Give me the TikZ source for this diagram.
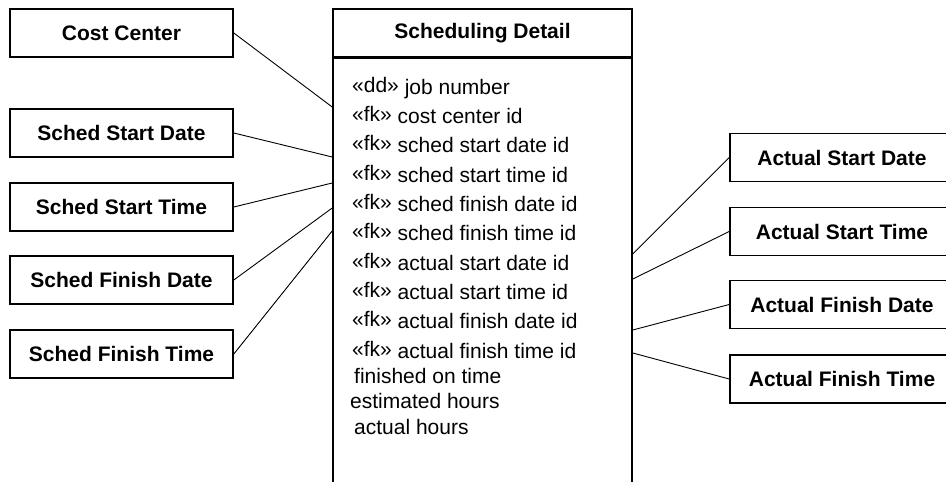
\documentclass[tikz,border=0pt]{standalone}
\usepackage{fontspec}
\setmainfont{Liberation Sans}
\usepackage{tikz}

\newcommand{\stereo}[1]{\raisebox{2pt}{«#1»}}

\tikzset{
  table/.style={draw, line width=1.6pt, minimum height=48pt, inner sep=0pt,
    font=\fontsize{21}{25}\selectfont\bfseries},
  field/.style={anchor=base west, inner sep=0pt, font=\fontsize{21}{25}\selectfont},
  link/.style={line width=0.9pt}
}

\begin{document}
\begin{tikzpicture}[x=1pt,y=-1pt]
            \clip (0,0) rectangle (946,482);
            % left tables
            \node[table, minimum width=223pt] (cc) at (121.5,33) {Cost Center};
            \node[table, minimum width=223pt] (ssd) at (121.5,133) {Sched Start Date};
            \node[table, minimum width=223pt] (sst) at (121.5,207) {Sched Start Time};
            \node[table, minimum width=223pt] (sfd) at (121.5,280) {Sched Finish Date};
            \node[table, minimum width=223pt] (sft) at (121.5,354) {Sched Finish Time};
            % right tables
            \node[table, minimum width=224pt] (asd) at (842,157.5) {Actual Start Date};
            \node[table, minimum width=224pt] (ast) at (842,231.5) {Actual Start Time};
            \node[table, minimum width=224pt] (afd) at (842,304.5) {Actual Finish Date};
            \node[table, minimum width=224pt] (aft) at (842,379) {Actual Finish Time};
            % fact table
            \node[table, minimum width=299pt] (detail) at (482.5,33) {Scheduling Detail};
            \node[draw, line width=1.6pt, minimum width=299pt, minimum height=460pt, anchor=north, inner sep=0pt] (fields) at (detail.south) {};
            \node[field] (f1) at (352,94) {\stereo{dd} job number};
            \node[field] (f2) at (352,123) {\stereo{fk} cost center id};
            \node[field] (f3) at (352,152.5) {\stereo{fk} sched start date id};
            \node[field] (f4) at (352,182) {\stereo{fk} sched start time id};
            \node[field] (f5) at (352,211) {\stereo{fk} sched finish date id};
            \node[field] (f6) at (352,240.5) {\stereo{fk} sched finish time id};
            \node[field] (f7) at (352,270) {\stereo{fk} actual start date id};
            \node[field] (f8) at (352,299) {\stereo{fk} actual start time id};
            \node[field] (f9) at (352,328.5) {\stereo{fk} actual finish date id};
            \node[field] (f10) at (352,358) {\stereo{fk} actual finish time id};
            \node[field] (f11) at (354,383) {finished on time};
            \node[field] (f12) at (350,408) {estimated hours};
            \node[field] (f13) at (354,434) {actual hours};
            % links
            \draw[link] (cc.east) -- (fields.west |- 0,107);
            \draw[link] (ssd.east) -- (fields.west |- 0,157);
            \draw[link] (sst.east) -- (fields.west |- 0,183);
            \draw[link] (sfd.east) -- (fields.west |- 0,208);
            \draw[link] (sft.east) -- (fields.west |- 0,231);
            \draw[link] (fields.east |- 0,254) -- (asd.west);
            \draw[link] (fields.east |- 0,279) -- (ast.west);
            \draw[link] (fields.east |- 0,330) -- (afd.west);
            \draw[link] (fields.east |- 0,353) -- (aft.west);
        \end{tikzpicture}
\end{document}
